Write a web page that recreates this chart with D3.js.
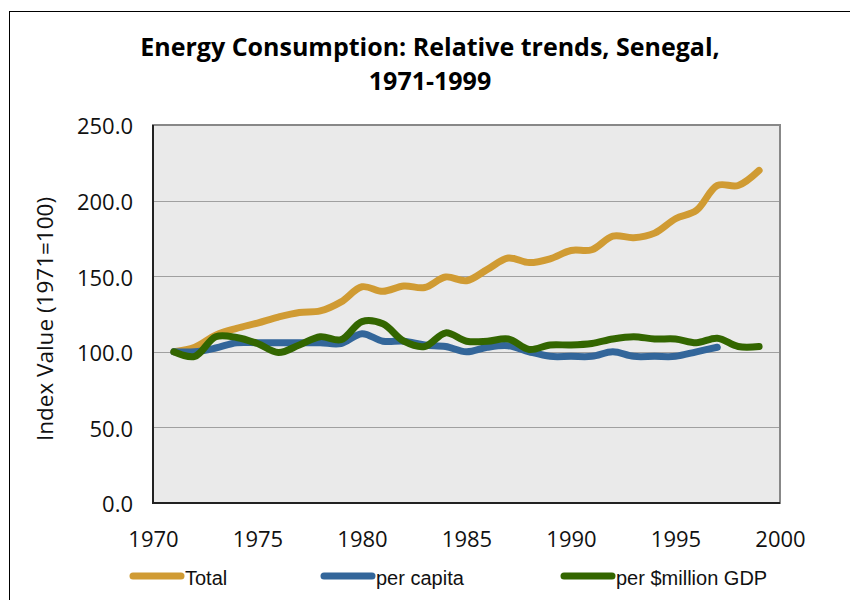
<!DOCTYPE html>
<html>
<head>
<meta charset="utf-8">
<script src="https://cdn.jsdelivr.net/npm/d3@7"></script>
<style>
    body { margin: 0; background: #fff; }
    svg { display: block; }
</style>
</head>
<body>
<div id="chart"></div>
<script>
const years = [1971, 1972, 1973, 1974, 1975, 1976, 1977, 1978, 1979, 1980,
    1981, 1982, 1983, 1984, 1985, 1986, 1987, 1988, 1989, 1990,
    1991, 1992, 1993, 1994, 1995, 1996, 1997, 1998, 1999];

const total = [100, 103, 111, 115.5, 119, 123, 126, 127, 133, 143,
    140, 143.5, 142.5, 149.5, 147, 154.5, 162, 159, 161.5, 167,
    167.5, 176.5, 175.5, 178.5, 188, 193.5, 210, 210, 220];

// per capita series stops at 1997
const perCapita = [100, 100, 102.5, 106, 106, 106, 106, 106, 105.5, 112,
    107, 107, 104.5, 103.5, 100, 103, 104, 100, 97, 97,
    97, 100, 97, 97, 97, 100, 103];

const perGdp = [100, 97, 110, 109.5, 105.5, 99.5, 104.5, 110, 108, 120,
    118.5, 107, 103.5, 112.5, 107, 107, 108.5, 101.5, 104.5, 104.5,
    105.5, 108.5, 110, 108.5, 108.5, 106, 109, 103.5, 103.5];

const seriesNames = ["Total", "per capita", "per $million GDP"];
const seriesColors = ["#D09B33", "#33669A", "#336600"];
const xTicks = [1970, 1975, 1980, 1985, 1990, 1995, 2000];
const yTicks = [0, 50, 100, 150, 200, 250];

function drawChart() {
    const width = 850;
    const height = 600;
    const plot = { left: 153, right: 780, top: 125, bottom: 503 };

    const svg = d3.select("#chart")
        .append("svg")
        .attr("width", width)
        .attr("height", height);

    // outer chart frame
    svg.append("rect")
        .attr("x", 9.5)
        .attr("y", 11.5)
        .attr("width", 900)
        .attr("height", 700)
        .attr("fill", "none")
        .attr("stroke", "#000")
        .attr("stroke-width", 1);

    svg.append("text")
        .attr("x", 430)
        .attr("y", 56)
        .attr("text-anchor", "middle")
        .style("font-family", "'Open Sans', sans-serif")
        .style("font-weight", "bold")
        .style("font-size", "25px")
        .text("Energy Consumption: Relative trends, Senegal,");

    svg.append("text")
        .attr("x", 430)
        .attr("y", 90)
        .attr("text-anchor", "middle")
        .style("font-family", "'Open Sans', sans-serif")
        .style("font-weight", "bold")
        .style("font-size", "25px")
        .text("1971-1999");

    const xScale = d3.scaleLinear()
        .domain([1970, 2000])
        .range([plot.left, plot.right]);

    const yScale = d3.scaleLinear()
        .domain([0, 250])
        .range([plot.bottom, plot.top]);

    svg.append("rect")
        .attr("x", plot.left)
        .attr("y", plot.top)
        .attr("width", plot.right - plot.left)
        .attr("height", plot.bottom - plot.top)
        .attr("fill", "#EAEAEA");

    // gridlines
    svg.append("g")
        .selectAll("line")
        .data(yTicks.filter((d) => d > 0 && d < 250))
        .join("line")
        .attr("x1", plot.left)
        .attr("x2", plot.right)
        .attr("y1", (d) => Math.round(yScale(d)) + 0.5)
        .attr("y2", (d) => Math.round(yScale(d)) + 0.5)
        .attr("stroke", "#A0A0A0")
        .attr("stroke-width", 1);

    // plot border: grey top/right, dark left/bottom
    svg.append("rect")
        .attr("x", plot.left)
        .attr("y", plot.top)
        .attr("width", plot.right - plot.left)
        .attr("height", plot.bottom - plot.top)
        .attr("fill", "none")
        .attr("stroke", "#888")
        .attr("stroke-width", 2);

    svg.append("path")
        .attr("d", `M${plot.left},${plot.top} V${plot.bottom} H${plot.right}`)
        .attr("fill", "none")
        .attr("stroke", "#222")
        .attr("stroke-width", 2);

    const yAxis = d3.axisLeft(yScale)
        .tickValues(yTicks)
        .tickSize(0)
        .tickPadding(20)
        .tickFormat(d3.format(".1f"));

    const xAxis = d3.axisBottom(xScale)
        .tickValues(xTicks)
        .tickSize(0)
        .tickPadding(28)
        .tickFormat(d3.format("d"));

    svg.append("g")
        .attr("transform", `translate(${plot.left},0)`)
        .call(yAxis)
        .call((g) => g.select(".domain").remove())
        .selectAll("text")
        .attr("dy", "0.4em")
        .style("font-family", "'Open Sans', sans-serif")
        .style("font-size", "22px")
        .attr("fill", "#111");

    svg.append("g")
        .attr("transform", `translate(0,${plot.bottom})`)
        .call(xAxis)
        .call((g) => g.select(".domain").remove())
        .selectAll("text")
        .style("font-family", "'Open Sans', sans-serif")
        .style("font-size", "22px")
        .attr("fill", "#111");

    svg.append("text")
        .attr("transform", "rotate(-90)")
        .attr("x", -319)
        .attr("y", 53)
        .attr("text-anchor", "middle")
        .style("font-family", "'Open Sans', sans-serif")
        .style("font-size", "22.5px")
        .attr("fill", "#111")
        .text("Index Value (1971=100)");

    const series = [total, perCapita, perGdp].map((values, i) => ({
        name: seriesNames[i],
        color: seriesColors[i],
        points: values.map((v, j) => ({ year: years[j], value: v }))
    }));

    const line = d3.line()
        .x((d) => xScale(d.year))
        .y((d) => yScale(d.value))
        .curve(d3.curveCatmullRom.alpha(0.5));

    svg.append("g")
        .selectAll("path")
        .data(series)
        .join("path")
        .attr("d", (d) => line(d.points))
        .attr("fill", "none")
        .attr("stroke", (d) => d.color)
        .attr("stroke-width", 7)
        .attr("stroke-linecap", "round")
        .attr("stroke-linejoin", "round");

    // legend
    const legendX = [130, 321, 561];
    const legend = svg.append("g")
        .selectAll("g")
        .data(series)
        .join("g")
        .attr("transform", (d, i) => `translate(${legendX[i]},576)`);

    legend.append("line")
        .attr("x1", 3)
        .attr("x2", 51)
        .attr("stroke", (d) => d.color)
        .attr("stroke-width", 7)
        .attr("stroke-linecap", "round");

    legend.append("text")
        .attr("x", 55)
        .attr("y", 9)
        .style("font-family", "'Liberation Sans', Arial, sans-serif")
        .style("font-size", "20px")
        .attr("fill", "#111")
        .text((d) => d.name);
}

drawChart();
</script>
</body>
</html>
